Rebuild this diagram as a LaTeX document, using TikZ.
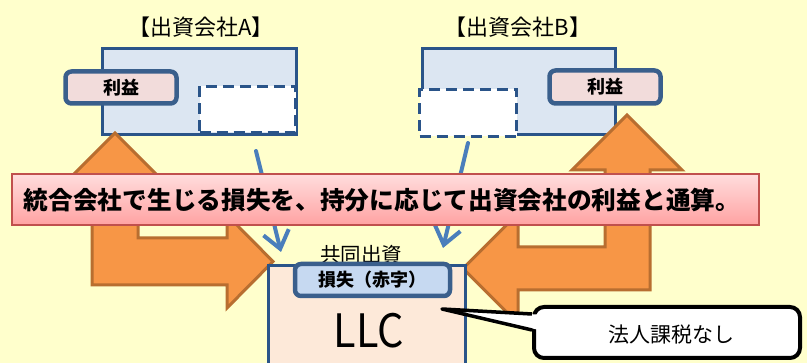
\documentclass[tikz,border=0pt]{standalone}
\usepackage{fontspec}
\usepackage{graphicx}
\newfontfamily\jp{Noto Sans CJK JP}
\usetikzlibrary{arrows.meta}
\definecolor{bg}{HTML}{FFFFCC}
\definecolor{boxFill}{HTML}{DCE6F2}
\definecolor{boxBorder}{HTML}{2A5489}
\definecolor{tagBorder}{HTML}{3A5F8C}
\definecolor{tagPink}{HTML}{F2DCDB}
\definecolor{tagBlue}{HTML}{C6D9F1}
\definecolor{llcFill}{HTML}{FDE9D9}
\definecolor{orangeFill}{HTML}{F79646}
\definecolor{orangeLine}{HTML}{B86E30}
\definecolor{blueArrow}{HTML}{4A7EBB}
\definecolor{bannerTop}{HTML}{FFDDDD}
\definecolor{bannerMid}{HTML}{FFC6C6}
\definecolor{bannerBot}{HTML}{FFA2A2}
\definecolor{bannerLine}{HTML}{C0504D}
\tikzset{
  every node/.style={inner sep=0pt, outer sep=0pt, font=\jp},
  companybox/.style={draw=boxBorder, fill=boxFill, line width=3pt},
  profittag/.style={draw=tagBorder, fill=tagPink, line width=4.5pt, rounded corners=6pt,
    font=\jp\bfseries\fontsize{18}{20}\selectfont},
  slot/.style={draw=boxBorder, fill=white, line width=3pt, dash pattern=on 11pt off 6pt},
  bigarrow/.style={fill=orangeFill, draw=orangeLine, line width=3pt, line join=miter},
  flowline/.style={draw=blueArrow, line width=4pt, line cap=round,
    -{Straight Barb[length=17pt,width=26pt,line width=4pt]}},
  titletext/.style={font=\jp\fontsize{22}{24}\selectfont},
}
\begin{document}
\begin{tikzpicture}[x=1pt,y=-1pt]
\useasboundingbox (0,0) rectangle (807,363);
\fill[bg] (0,0) rectangle (807,363);

% titles
\node[titletext] (tA) at (201,27) {【出資会社A】};
\node[titletext] (tB) at (518,27) {【出資会社B】};

% company boxes
\node[companybox, minimum width=194pt, minimum height=86pt] (boxA) at (199.5,91.5) {};
\node[companybox, minimum width=193pt, minimum height=86pt] (boxB) at (519,91.5) {};
\node[profittag, minimum width=111pt, minimum height=32pt] (profA) at (121,87.5) {利益};
\node[profittag, minimum width=111pt, minimum height=33pt] (profB) at (605,87) {利益};
\node[slot, minimum width=96pt, minimum height=46pt] (slotA) at (247.5,109.5) {};
\node[slot, minimum width=97pt, minimum height=47pt] (slotB) at (468,113) {};

% orange bent arrows
\draw[bigarrow] (115,133) -- (161,179) -- (138,179) -- (138,238) -- (227,238) -- (227,215)
  -- (273,261.5) -- (227,308) -- (227,285) -- (92,285) -- (92,179) -- (69,179) -- cycle;
\draw[bigarrow] (627,115) -- (682,170) -- (650,170) -- (650,290) -- (518,290) -- (518,323.5)
  -- (463,268.5) -- (518,213.5) -- (518,247) -- (605,247) -- (605,170) -- (572,170) -- cycle;

% blue flow arrows
\coordinate (fa1) at (256,151);
\coordinate (fa2) at (281,252);
\coordinate (fb1) at (468,143);
\coordinate (fb2) at (443,248);
\draw[flowline] (fa1) -- (fa2);
\draw[flowline] (fb1) -- (fb2);

% banner
\node[draw=bannerLine, line width=2pt, top color=bannerTop, middle color=bannerMid, bottom color=bannerBot,
  minimum width=747pt, minimum height=51pt] (banner) at (385.5,199.5) {};
\node[font=\jp\bfseries\fontsize{24.7}{27}\selectfont] (bannerText) at (382,200)
  {統合会社で生じる損失を、持分に応じて出資会社の利益と通算。};

% LLC
\node[font=\jp\fontsize{20.5}{22}\selectfont] (joint) at (361,255) {共同出資};
\fill[llcFill, draw=boxBorder, line width=3pt] (268,266) rectangle (465,380);
\node[draw=tagBorder, fill=tagBlue, line width=4.5pt, rounded corners=6pt,
  minimum width=155pt, minimum height=32pt, font=\jp\bfseries\fontsize{18}{20}\selectfont] (loss) at (372.5,280) {損失（赤字）};
\node[font=\jp\fontsize{46}{50}\selectfont] (llc) at (369,331) {\scalebox{0.9}[1]{LLC}};

% callout
\node[draw=black, fill=white, line width=4pt, rounded corners=10pt,
  minimum width=266pt, minimum height=51pt] (callout) at (667,332.5) {};
\coordinate (tip) at (442,309);
\coordinate (cu) at (532,314);
\coordinate (cl) at (532,330);
\fill[white] (tip) -- (537,314.5) -- (537,329.5) -- cycle;
\draw[black, line width=3.5pt, line join=round] (cu) -- (tip) -- (cl);
\node[font=\jp\fontsize{21}{24}\selectfont] (calloutText) at (671,335) {法人課税なし};
\end{tikzpicture}
\end{document}
